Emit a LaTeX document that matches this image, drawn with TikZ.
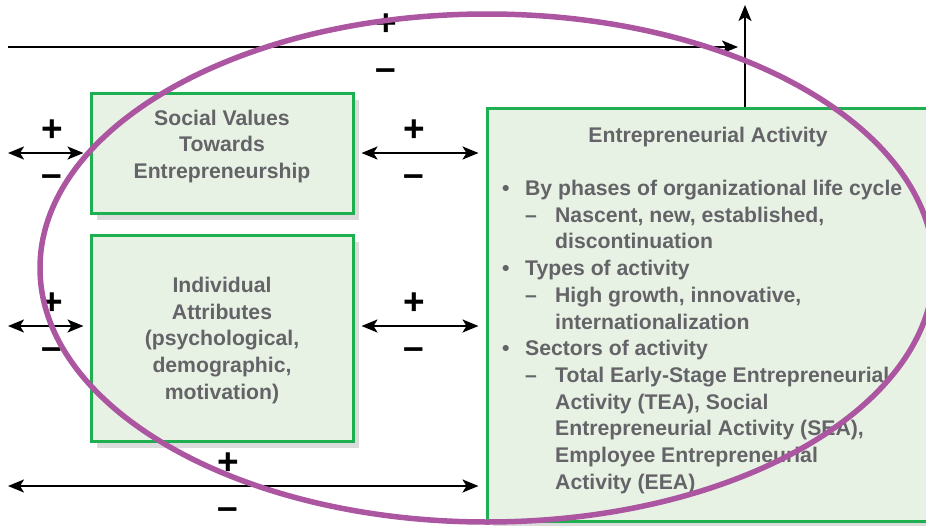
\documentclass[tikz,border=0pt]{standalone}
\usepackage{fontspec}
\setmainfont{Liberation Sans}
\usetikzlibrary{arrows.meta,shadows}
\definecolor{boxgreen}{RGB}{30,175,80}
\definecolor{boxfill}{RGB}{232,242,228}
\definecolor{textgray}{RGB}{100,100,104}
\definecolor{loopviolet}{RGB}{172,86,162}
\begin{document}
\begin{tikzpicture}[x=1pt,y=-1pt, >={Stealth[length=16pt,width=13pt,inset=4pt]},
    box/.style={draw=boxgreen, line width=3pt, fill=boxfill, inner sep=0pt,
        drop shadow={shadow xshift=6pt, shadow yshift=-7pt, opacity=0.28}},
    txt/.style={inner sep=0pt, text=textgray, font=\bfseries\fontsize{21.2}{26.7}\selectfont},
    sign/.style={inner sep=0pt, font=\bfseries\fontsize{37}{37}\selectfont},
    link/.style={line width=2.2pt, <->}]
    \useasboundingbox (0,0) rectangle (926,525);
    \node[box, minimum width=262pt, minimum height=120pt] (sv) at (222,153) {};
    \node[box, minimum width=262pt, minimum height=206pt] (ia) at (222,338) {};
    \node[box, minimum width=453pt, minimum height=413pt] (ea) at (713.5,314.5) {};
    \node[txt, align=center, anchor=north] (svtext) at (222,109.5) {Social Values\\Towards\\Entrepreneurship};
    \node[txt, align=center, anchor=north] (iatext) at (222,277) {Individual\\Attributes\\(psychological,\\demographic,\\motivation)};
    \node[txt, anchor=base] (eatitle) at (708,142.5) {Entrepreneurial Activity};
    \node[txt, align=left, anchor=north west] (ealist) at (502,180) {%
        \makebox[23pt][l]{•}By phases of organizational life cycle\\
        \hspace*{23pt}\makebox[30pt][l]{–}Nascent, new, established,\\
        \hspace*{53pt}discontinuation\\
        \makebox[23pt][l]{•}Types of activity\\
        \hspace*{23pt}\makebox[30pt][l]{–}High growth, innovative,\\
        \hspace*{53pt}internationalization\\
        \makebox[23pt][l]{•}Sectors of activity\\
        \hspace*{23pt}\makebox[30pt][l]{–}Total Early-Stage Entrepreneurial\\
        \hspace*{53pt}Activity (TEA), Social\\
        \hspace*{53pt}Entrepreneurial Activity (SEA),\\
        \hspace*{53pt}Employee Entrepreneurial\\
        \hspace*{53pt}Activity (EEA)};
    \coordinate (topl) at (8,47); \coordinate (topr) at (738,47); \coordinate (up) at (745,5);
    \coordinate (svl) at (8,153); \coordinate (ial) at (8,326); \coordinate (botl) at (8,486);
    \draw[line width=2.2pt, ->] (topl) -- (topr);
    \draw[line width=1.8pt, ->] (ea.north -| up) -- (up);
    \draw[link, shorten >=6pt] (svl) -- (sv.west);
    \draw[link, shorten <=7pt, shorten >=7pt] (sv.east) -- (sv.east -| ea.west);
    \draw[link, shorten >=6pt] (ial) -- (ial -| ia.west);
    \draw[link, shorten <=7pt, shorten >=7pt] (ial -| ia.east) -- (ial -| ea.west);
    \draw[link, shorten >=7pt] (botl) -- (botl -| ea.west);
    \foreach \x/\y [count=\i] in {386/47, 52/153, 414/153, 52/326, 414/326, 228/486} {
        \node[sign] (plus\i) at (\x,\y-22) {+};
        \node[sign] (minus\i) at (\x,\y+28) {–};
    }
    \draw[loopviolet, line width=5.5pt] (487,268) ellipse [x radius=447, y radius=254];
\end{tikzpicture}
\end{document}
